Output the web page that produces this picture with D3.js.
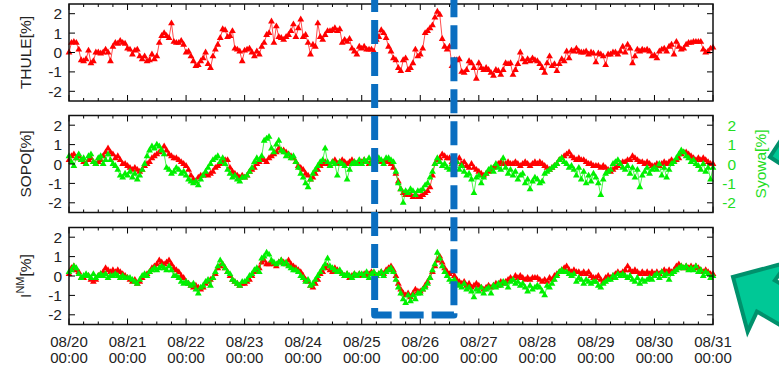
<!DOCTYPE html>
<html>
<head>
<meta charset="utf-8">
<script src="https://cdn.jsdelivr.net/npm/d3@7"></script>
<style>
  body { margin: 0; background: #fff; }
  svg { display: block; font-family: "Liberation Sans", Arial, sans-serif; }
</style>
</head>
<body>
<svg class="chartSVG" width="779" height="369"></svg>
<script>
// hourly values, 08/20 00:00 .. 08/31 00:00 (265 points each)
var thule = [
  0.0, 0.5, 0.55, 0.5, 0.15, -0.4, -0.45, -0.35, 0.1, -0.55, -0.45, 0.0, 0.0, -0.05, 0.0, 0.15, 0.0, -0.45, 0.3, 0.5, 0.45, 0.6, 0.5, 0.45,
  0.2, 0.15, -0.1, 0.1, 0.15, -0.2, -0.35, -0.2, -0.45, -0.4, -0.1, -0.35, -0.2, 0.5, 0.85, 1.0, 0.85, 0.75, 1.5, 0.55, 0.5, 0.5, 0.6, 0.4,
  0.0, 0.05, -0.2, -0.45, -0.7, -0.65, -0.45, -0.3, 0.0, -0.6, -0.8, -0.2, 0.15, 0.4, 0.75, 1.2, 1.15, 0.8, 0.85, 1.1, 0.2, 0.15, 0.05, -0.45,
  0.1, 0.15, 0.2, 0.0, -0.2, 0.05, -0.1, 0.3, 0.5, 0.9, 1.0, 1.6, 0.5, 1.35, 0.8, 0.75, 0.65, 0.8, 0.9, 1.1, 1.45, 0.8, 1.25, 1.7,
  0.8, 0.9, 0.5, -0.1, 0.4, 0.3, 1.5, 0.8, 0.65, 0.9, 1.1, 1.1, 1.15, 1.25, 1.1, 1.2, 0.5, 0.65, 0.55, 0.7, 0.2, 0.05, -0.1, 0.3,
  0.2, 0.3, 0.15, 0.15, 0.15, 0.05, 0.65, 0.8, 1.15, 1.0, 0.75, 0.3, 0.05, -0.3, -0.4, -0.8, -0.95, -0.4, -0.3, -0.9, -0.8, -0.55, 0.15, -0.2,
  -0.1, 0.2, 1.0, 1.1, 1.25, 1.4, 1.8, 2.1, 1.95, 0.7, 0.3, 0.15, 0.3, -0.7, -0.4, -0.4, -0.35, -1.0, -1.05, -0.9, -0.45, -0.55, -0.8, -1.35,
  -0.55, -0.8, -0.9, -0.8, -0.9, -1.05, -1.2, -0.9, -0.95, -1.15, -0.9, -0.55, -0.6, -0.55, -1.15, -0.9, -0.6, 0.0, -0.35, -0.5, -0.35, -0.45, -0.3, -0.4,
  -0.45, -0.6, -0.8, -1.05, -0.55, -0.2, -0.7, -0.6, -0.95, -0.6, -0.35, -0.45, 0.05, -0.3, 0.1, 0.05, 0.2, 0.05, 0.0, 0.0, 0.05, -0.1, 0.0, -0.05,
  -0.5, -0.05, -0.1, -0.2, -0.65, -0.1, -0.1, 0.0, 0.0, -0.1, 0.05, 0.3, 0.0, 0.4, 0.2, -0.55, -0.2, 0.15, 0.05, 0.15, 0.1, 0.15, 0.05, -0.2,
  -0.15, -0.3, 0.05, 0.15, 0.2, 0.05, 0.3, 0.4, -0.1, 0.55, 0.3, 0.15, 0.2, 0.4, 0.5, 0.5, 0.55, 0.55, 0.55, 0.55, 0.15, 0.0, 0.05, 0.2, 0.25
];
var sopo = [
  0.2, 0.4, 0.5, 0.3, 0.4, 0.2, 0.1, 0.0, 0.2, 0.3, 0.1, 0.0, 0.1, 0.2, 0.4, 0.6, 0.8, 0.6, 0.5, 0.3, 0.4, 0.2, 0.0, 0.0,
  -0.1, -0.2, -0.3, -0.2, -0.3, -0.4, -0.3, -0.1, 0.0, 0.1, 0.3, 0.4, 0.5, 0.6, 0.7, 0.9, 0.7, 0.5, 0.4, 0.3, 0.3, 0.2, 0.1, 0.0,
  -0.1, -0.3, -0.6, -0.8, -0.9, -0.7, -0.6, -0.6, -0.5, -0.6, -0.5, -0.4, -0.2, -0.1, 0.0, 0.1, 0.2, 0.2, -0.2, -0.4, -0.5, -0.6, -0.7, -0.6,
  -0.7, -0.6, -0.4, -0.3, -0.2, 0.0, 0.1, 0.2, 0.2, 0.1, 0.3, 0.4, 0.5, 0.6, 0.8, 0.7, 0.7, 0.6, 0.5, 0.4, 0.3, 0.1, -0.1, -0.2,
  -0.3, -0.5, -0.6, -0.8, -0.7, -0.5, -0.3, -0.1, 0.0, 0.1, 0.0, -0.1, 0.1, 0.2, 0.0, 0.1, 0.2, 0.1, 0.0, 0.1, 0.2, 0.1, 0.0, 0.1,
  0.1, 0.2, 0.1, 0.0, 0.1, 0.2, 0.1, 0.2, 0.1, 0.1, 0.2, 0.1, 0.0, -0.2, -0.5, -0.9, -1.3, -1.5, -1.6, -1.5, -1.6, -1.7, -1.6, -1.7,
  -1.7, -1.6, -1.5, -1.4, -1.2, -0.6, 0.0, 0.2, 0.3, 0.5, 0.4, 0.3, 0.3, 0.1, 0.2, 0.1, 0.3, 0.0, 0.1, -0.1, -0.2, 0.0, -0.2, -0.3,
  -0.4, -0.5, -0.6, -0.5, -0.4, -0.3, -0.2, -0.1, 0.0, 0.1, 0.0, 0.0, 0.1, 0.0, 0.0, 0.1, 0.0, -0.1, 0.0, 0.1, 0.0, -0.1, 0.0, 0.1,
  0.0, 0.1, 0.0, -0.1, -0.2, -0.3, -0.2, -0.1, 0.0, 0.2, 0.3, 0.4, 0.5, 0.6, 0.4, 0.3, 0.2, 0.3, 0.2, 0.2, 0.1, 0.0, 0.0, -0.1,
  -0.1, -0.1, -0.2, -0.1, -0.2, -0.3, -0.4, -0.3, -0.2, -0.1, 0.0, 0.1, 0.1, 0.2, 0.2, 0.4, 0.3, 0.2, 0.1, 0.1, 0.0, 0.1, 0.0, -0.1,
  -0.1, 0.0, -0.1, 0.0, 0.1, 0.0, 0.1, 0.2, 0.1, 0.2, 0.3, 0.5, 0.6, 0.6, 0.5, 0.4, 0.3, 0.2, 0.3, 0.2, 0.3, 0.2, 0.1, 0.0, 0.0
];
var syowa = [
  0.4, 0.1, -0.1, 0.3, 0.5, 0.2, 0.3, 0.0, 0.4, 0.5, 0.1, 0.0, 0.3, 0.4, 0.0, 0.2, 0.5, 0.2, 0.0, -0.1, -0.3, -0.6, -0.7, -0.5,
  -0.6, -0.4, -0.7, -0.5, -0.8, -0.6, -0.3, 0.0, 0.4, 0.7, 0.9, 0.8, 1.0, 0.9, 0.7, 0.5, -0.2, -0.3, -0.5, -0.4, -0.2, -0.3, -0.5, -0.4,
  -0.6, -0.8, -0.9, -1.0, -0.9, -1.1, -0.8, -0.6, -0.4, -0.2, 0.0, 0.2, 0.3, 0.4, 0.1, 0.3, 0.0, -0.3, -0.5, -0.7, -0.6, -0.8, -0.9, -0.7,
  -0.7, -0.6, -0.4, -0.2, 0.1, 0.3, 0.2, 0.4, 1.2, 1.3, 1.4, 0.8, 0.6, 1.0, 1.2, 0.7, 0.6, 0.4, 0.5, 0.3, 0.4, 0.1, -0.2, -0.5,
  -0.7, -1.0, -1.2, -0.8, -0.5, -0.3, -0.1, 0.1, 0.2, 0.8, 0.1, -0.1, 0.1, 0.0, -0.6, 0.1, 0.0, -0.1, -0.8, -0.3, 0.0, 0.1, 0.0, 0.2,
  0.0, 0.2, 0.1, 0.3, 0.0, 0.2, 0.1, 0.3, 0.2, 0.0, 0.3, 0.3, 0.2, 0.1, -0.4, -1.0, -1.3, -2.0, -1.4, -1.5, -1.3, -1.4, -1.6, -1.4,
  -1.4, -1.3, -1.1, -1.0, -0.7, -0.4, 0.0, 0.3, 0.1, -0.1, 0.0, -0.2, -0.3, 0.0, -0.1, 0.1, -0.3, -0.1, -0.4, -0.6, -0.5, -0.8, -1.5, -0.7,
  -0.6, -1.0, -0.7, -0.5, -0.3, -0.2, -0.4, 0.0, -0.2, -0.3, 0.3, -0.2, -0.5, -0.3, -0.6, -0.4, -0.8, -0.6, -0.5, -1.0, -0.8, -1.3, -0.9, -0.7,
  -0.8, -1.0, -0.9, -0.5, -0.4, -0.3, -0.2, -0.1, 0.0, 0.2, 0.3, 0.1, 0.0, -0.2, -0.1, -0.3, -0.6, -0.2, -0.8, -0.4, -1.0, -0.6, -0.9, -0.5,
  -0.7, -1.0, -1.6, -0.8, -0.5, -0.4, -0.3, 0.0, 0.1, 0.2, 0.0, -0.2, -0.3, -0.1, -0.5, -0.2, -0.7, -0.3, -1.2, -0.6, -0.4, -0.2, -0.5, -0.3,
  -0.2, -0.3, 0.0, -0.6, -0.2, -0.7, -0.3, 0.0, 0.1, 0.3, 0.5, 0.7, 0.6, 0.4, 0.3, 0.1, 0.2, 0.0, -0.1, -0.3, 0.0, -0.4, -0.2, -0.8, -0.2
];
var inmRed = [
  0.1, 0.4, 0.5, 0.3, 0.2, -0.1, -0.1, 0.0, 0.0, -0.2, -0.3, -0.2, 0.0, 0.1, 0.2, 0.4, 0.3, 0.2, 0.3, 0.2, 0.3, 0.2, 0.1, 0.0,
  -0.1, -0.2, -0.3, -0.2, -0.4, -0.3, -0.1, 0.0, 0.1, 0.2, 0.4, 0.5, 0.6, 0.8, 0.7, 0.6, 0.7, 0.8, 0.6, 0.4, 0.3, 0.2, 0.0, -0.1,
  -0.3, -0.4, -0.5, -0.6, -0.5, -0.6, -0.7, -0.6, -0.4, -0.3, -0.2, -0.1, 0.1, 0.4, 0.5, 0.6, 0.4, 0.2, 0.0, -0.2, -0.3, -0.4, -0.5, -0.4,
  -0.4, -0.3, -0.2, 0.0, 0.2, 0.3, 0.4, 0.7, 0.8, 0.6, 0.6, 0.7, 0.6, 0.5, 0.7, 0.8, 0.7, 0.6, 0.8, 0.6, 0.5, 0.4, 0.3, 0.2,
  0.0, -0.2, -0.3, -0.5, -0.6, -0.4, -0.2, 0.1, 0.2, 0.4, 0.5, 0.3, 0.2, 0.4, 0.3, 0.2, 0.1, 0.0, 0.1, -0.1, 0.0, 0.1, 0.0, 0.1,
  0.0, 0.1, 0.0, 0.1, 0.2, 0.1, 0.0, 0.1, 0.2, 0.1, 0.3, 0.4, 0.5, 0.3, 0.0, -0.4, -0.7, -0.9, -1.0, -0.9, -1.1, -0.9, -0.7, -0.8,
  -0.8, -0.7, -0.5, -0.3, -0.1, 0.2, 0.5, 0.8, 1.0, 0.7, 0.4, 0.2, 0.1, 0.2, 0.0, -0.2, -0.3, -0.4, -0.3, -0.5, -0.4, -0.6, -0.5, -0.4,
  -0.5, -0.6, -0.7, -0.6, -0.5, -0.6, -0.5, -0.4, -0.5, -0.3, -0.4, -0.3, -0.2, -0.1, -0.2, 0.0, -0.1, 0.0, -0.1, -0.2, -0.1, -0.2, -0.1, -0.1,
  -0.1, -0.2, -0.3, -0.2, -0.3, -0.1, -0.2, 0.0, 0.1, 0.2, 0.3, 0.4, 0.5, 0.3, 0.2, 0.3, 0.2, 0.2, 0.1, 0.2, 0.1, 0.2, 0.0, -0.1,
  -0.1, 0.0, -0.2, -0.3, -0.1, 0.0, -0.1, 0.0, 0.1, 0.2, 0.1, 0.2, 0.3, 0.5, 0.3, 0.2, 0.3, 0.2, 0.1, 0.2, 0.1, 0.2, 0.1, 0.2,
  0.1, 0.2, 0.1, 0.2, 0.3, 0.2, 0.3, 0.2, 0.3, 0.5, 0.6, 0.5, 0.4, 0.5, 0.4, 0.5, 0.4, 0.5, 0.4, 0.3, 0.2, 0.3, 0.2, 0.1, 0.1
];
var inmGreen = [
  0.2, 0.3, 0.5, 0.4, 0.1, -0.1, 0.0, 0.1, 0.0, -0.1, 0.1, -0.1, 0.0, 0.1, 0.0, 0.1, -0.1, 0.0, 0.0, 0.1, 0.0, -0.1, 0.0, -0.1,
  -0.1, -0.1, -0.2, -0.3, -0.4, -0.2, 0.0, 0.1, 0.0, 0.2, 0.3, 0.4, 0.3, 0.4, 0.5, 0.4, 0.3, 0.5, 0.3, 0.0, 0.0, -0.1, -0.3, -0.4,
  -0.3, -0.4, -0.5, -0.4, -0.7, -0.9, -0.6, -0.5, -0.3, -0.2, -0.5, -0.1, 0.2, 0.5, 0.8, 0.6, 0.4, 0.2, 0.1, -0.2, -0.3, -0.4, -0.5, -0.3,
  -0.3, -0.2, 0.0, 0.1, 0.3, 0.4, 0.2, 0.9, 1.0, 1.2, 1.1, 0.8, 0.7, 0.6, 0.7, 0.8, 0.6, 0.7, 0.5, 0.4, 0.3, 0.3, 0.2, 0.0,
  -0.1, -0.3, -0.2, -0.5, -0.4, -0.2, 0.0, 0.2, 0.4, 0.6, 0.9, 0.5, 0.4, 0.3, 0.2, 0.3, 0.1, 0.0, 0.1, 0.0, -0.1, 0.1, 0.0, 0.1,
  0.1, 0.0, 0.2, -0.1, 0.1, 0.2, 0.0, 0.1, 0.2, 0.0, 0.2, 0.3, 0.4, 0.2, -0.2, -0.6, -0.9, -1.2, -1.4, -1.0, -1.3, -1.0, -1.2, -0.9,
  -0.9, -0.7, -0.6, -0.4, -0.1, 0.3, 0.6, 1.2, 0.9, 0.5, 0.2, 0.0, -0.2, -0.3, -0.2, -0.4, -0.5, -0.6, -0.4, -0.7, -0.6, -0.8, -1.1, -0.7,
  -0.8, -0.6, -0.9, -0.7, -0.6, -0.9, -0.5, -0.6, -0.4, -0.5, -0.3, -0.4, -0.6, -0.3, -0.2, -0.4, -0.3, -0.5, -0.4, -0.6, -0.8, -0.5, -0.7, -0.6,
  -0.5, -0.6, -0.8, -1.0, -0.5, -0.6, -0.4, -0.2, 0.0, 0.2, 0.3, 0.2, 0.2, 0.1, 0.0, 0.1, -0.3, -0.1, -0.2, -0.4, -0.2, -0.3, -0.4, -0.3,
  -0.3, -0.5, -0.6, -0.4, -0.3, -0.2, -0.2, 0.0, -0.1, 0.1, 0.0, 0.1, 0.0, -0.1, 0.0, -0.2, -0.3, -0.1, -0.4, -0.2, -0.3, -0.2, -0.1, -0.2,
  0.0, 0.1, -0.1, 0.2, 0.0, 0.1, -0.2, 0.1, 0.2, 0.3, 0.4, 0.5, 0.4, 0.5, 0.3, 0.4, 0.3, 0.5, 0.2, 0.3, 0.0, 0.2, 0.1, -0.1, 0.0
];
var dayLabels = ["08/20", "08/21", "08/22", "08/23", "08/24", "08/25", "08/26", "08/27", "08/28", "08/29", "08/30", "08/31"];
var yTicks = [2, 1, 0, -1, -2];
// highlighted interval, in hours from 08/20 00:00
var boxStart = 125.3, boxEnd = 157.8;

var RED = "#ff0000", GREEN = "#00f000", GREEN_TEXT = "#22dd22";
var svg = d3.select(".chartSVG");
var left = 69, right = 713, panelH = 97;
var tops = [4, 115.5, 227.5];

var x = d3.scaleLinear().domain([0, 264]).range([left, right]);
var tri = d3.symbol().type(d3.symbolTriangle).size(20);

var panels = [
  { top: tops[0], series: [{ v: thule, c: RED }] },
  { top: tops[1], series: [{ v: sopo, c: RED }, { v: syowa, c: GREEN }] },
  { top: tops[2], series: [{ v: inmRed, c: RED }, { v: inmGreen, c: GREEN }] }
];

panels.forEach(function (p, pi) {
  var y = d3.scaleLinear().domain([-2.5, 2.5]).range([p.top + panelH, p.top]);
  var g = svg.append("g").attr("class", "panel" + pi);

  // data
  p.series.forEach(function (s) {
    var line = d3.line().x((d, i) => x(i)).y(d => y(d));
    g.append("path")
      .attr("d", line(s.v))
      .attr("fill", "none")
      .attr("stroke", s.c)
      .attr("stroke-width", 0.7);
    g.append("g").selectAll("path")
      .data(s.v)
      .join("path")
      .attr("d", tri)
      .attr("fill", s.c)
      .attr("transform", (d, i) => `translate(${x(i)},${y(d)})`);
  });

  // x ticks every 6h, longer at each day
  var xt = d3.range(0, 265, 6);
  xt.forEach(function (h) {
    var len = h % 24 == 0 ? 6 : 3;
    g.append("line").attr("x1", x(h)).attr("x2", x(h))
      .attr("y1", p.top + panelH).attr("y2", p.top + panelH - len)
      .attr("stroke", "#000").attr("stroke-width", 1);
    g.append("line").attr("x1", x(h)).attr("x2", x(h))
      .attr("y1", p.top).attr("y2", p.top + len)
      .attr("stroke", "#000").attr("stroke-width", 1);
  });

  // y ticks both sides
  yTicks.forEach(function (t) {
    g.append("line").attr("x1", left).attr("x2", left + 6)
      .attr("y1", y(t)).attr("y2", y(t)).attr("stroke", "#000");
    g.append("line").attr("x1", right - 6).attr("x2", right)
      .attr("y1", y(t)).attr("y2", y(t)).attr("stroke", "#000");
    g.append("text").attr("x", 62).attr("y", y(t) + 5.5)
      .attr("text-anchor", "end").attr("font-size", 15.5).attr("fill", "#222")
      .text(t);
    if (pi == 1) {
      g.append("text").attr("x", 736).attr("y", y(t) + 5.5)
        .attr("text-anchor", "end").attr("font-size", 15.5).attr("fill", GREEN_TEXT)
        .text(t);
    }
  });

  g.append("rect")
    .attr("x", left).attr("y", p.top)
    .attr("width", right - left).attr("height", panelH)
    .attr("fill", "none").attr("stroke", "#111").attr("stroke-width", 1.5);
});

// y titles
function yTitle(cy) {
  return svg.append("text")
    .attr("transform", `translate(31,${cy}) rotate(-90)`)
    .attr("text-anchor", "middle").attr("font-size", 15.5).attr("fill", "#222");
}
yTitle(tops[0] + panelH / 2).text("THULE[%]");
yTitle(tops[1] + panelH / 2).text("SOPO[%]");
var inmT = yTitle(tops[2] + panelH / 2);
inmT.append("tspan").text("I");
inmT.append("tspan").attr("font-size", 11).attr("dy", -7).text("NM");
inmT.append("tspan").attr("dy", 7).text("[%]");

svg.append("text")
  .attr("transform", `translate(766,${tops[1] + panelH / 2}) rotate(-90)`)
  .attr("text-anchor", "middle").attr("font-size", 15.5).attr("fill", GREEN_TEXT)
  .text("Syowa[%]");

// x tick labels under the last panel
var xl = svg.append("g").attr("class", "xlabels")
  .attr("font-size", 15).attr("fill", "#222").attr("text-anchor", "middle");
dayLabels.forEach(function (lab, i) {
  xl.append("text").attr("x", x(i * 24)).attr("y", 346.5).text(lab);
  xl.append("text").attr("x", x(i * 24)).attr("y", 362.5).text("00:00");
});

// dashed blue box round the event
var bx0 = x(boxStart), bx1 = x(boxEnd), by = 315;
svg.append("path")
  .attr("d", `M${bx0},-12 L${bx0},${by} L${bx1},${by} L${bx1},-12`)
  .attr("fill", "none")
  .attr("stroke", "#0a6ec0")
  .attr("stroke-width", 7)
  .attr("stroke-linejoin", "round")
  .attr("stroke-dasharray", "24 8");

// arrows on the right, cut by the page edge
function arrow(tx, ty, angle) {
  var pts = [[0, 0], [40, 40], [38, 18], [170, 18], [170, -18], [38, -18], [40, -40]];
  svg.append("polygon")
    .attr("points", pts.map(p => p.join(",")).join(" "))
    .attr("transform", `translate(${tx},${ty}) rotate(${angle})`)
    .attr("fill", "#00c896")
    .attr("stroke", "#00916c")
    .attr("stroke-width", 4)
    .attr("stroke-linejoin", "miter");
}
arrow(770, 157, -12);
arrow(733, 277, 30);
</script>
</body>
</html>
